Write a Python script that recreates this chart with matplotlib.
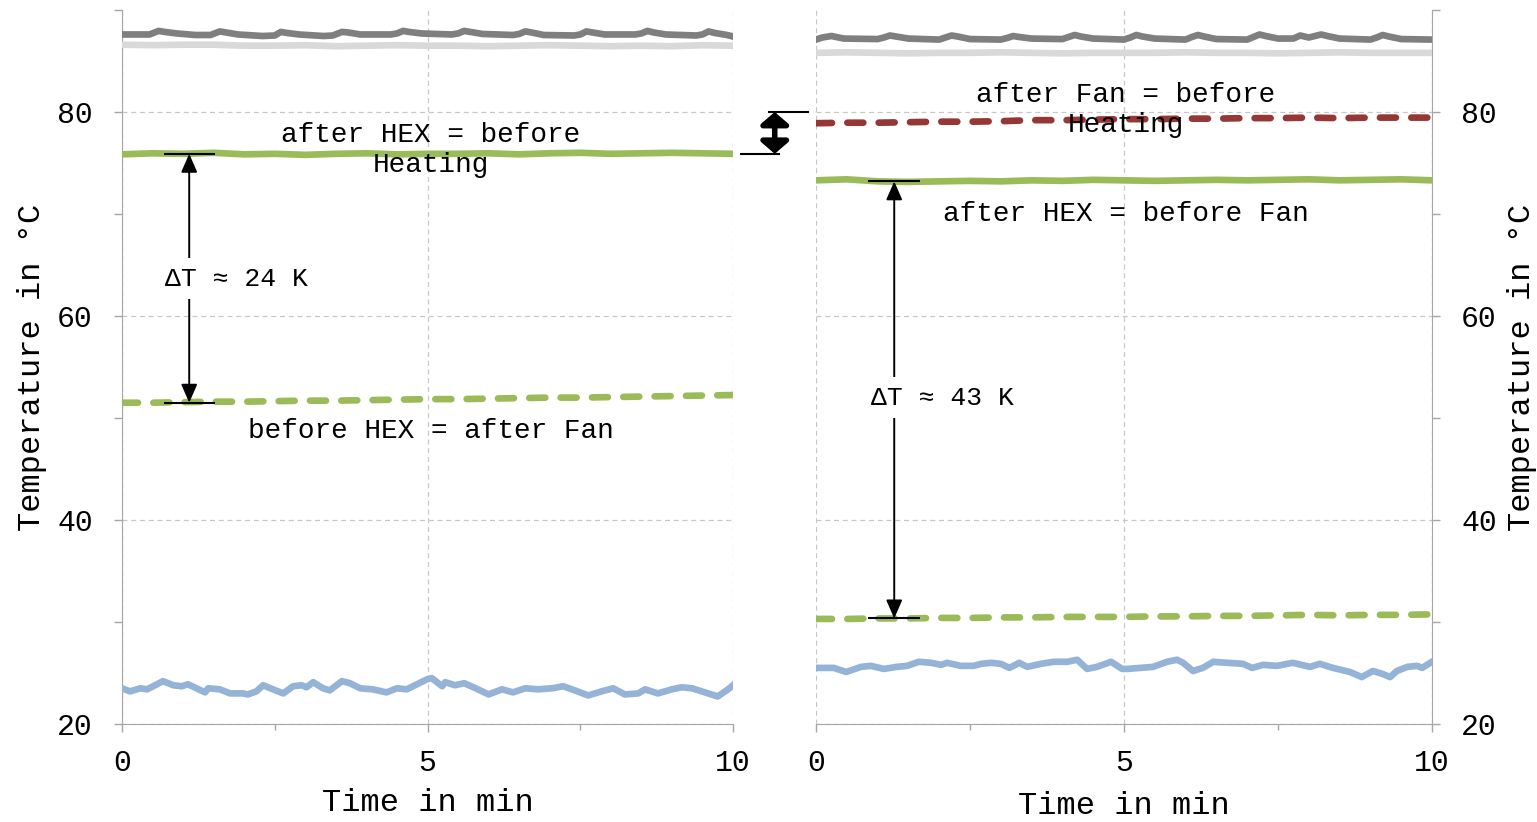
import numpy as np
import matplotlib
matplotlib.use("Agg")
import matplotlib.pyplot as plt
from matplotlib.ticker import MultipleLocator

plt.rcParams['font.family'] = ['Liberation Mono', 'DejaVu Sans Mono']
plt.rcParams['text.color'] = 'black'

# Zeitachse in min (0.5-min-Raster fuer die ruhigen Kurven)
t_half = [i * 0.5 for i in range(21)]

# --- linke Seite: Messung vor dem Umbau ---
t_grau_l = [0, 0.45, 0.6, 0.7, 0.9, 1.2, 1.45, 1.6, 1.7, 1.9, 2.3, 2.5, 2.6, 2.7, 2.9, 3.3,
            3.45, 3.6, 3.7, 3.9, 4.4, 4.5, 4.6, 4.7, 4.9, 5.4, 5.5, 5.6, 5.7, 5.9, 6.4, 6.5,
            6.6, 6.7, 6.9, 7.4, 7.5, 7.6, 7.7, 7.9, 8.4, 8.5, 8.6, 8.7, 8.9, 9.4, 9.5, 9.6,
            9.7, 9.9, 10]
grau_dunkel_l = [87.6, 87.6, 87.95, 87.85, 87.7, 87.55, 87.55, 87.9, 87.8, 87.6, 87.45, 87.5,
                 87.85, 87.75, 87.6, 87.45, 87.5, 87.85, 87.8, 87.6, 87.6, 87.7, 87.95, 87.85,
                 87.7, 87.6, 87.7, 87.95, 87.85, 87.65, 87.55, 87.65, 87.9, 87.8, 87.55, 87.5,
                 87.6, 87.9, 87.8, 87.6, 87.6, 87.7, 87.95, 87.8, 87.6, 87.5, 87.6, 87.9, 87.75,
                 87.55, 87.4]
grau_hell_l = [86.6, 86.55, 86.6, 86.6, 86.5, 86.5, 86.55, 86.45, 86.5, 86.55, 86.5, 86.5, 86.45,
               86.5, 86.55, 86.5, 86.45, 86.5, 86.45, 86.55, 86.5]
nach_hex_l = [75.85, 75.95, 75.9, 76.0, 75.85, 75.9, 75.8, 75.9, 75.95, 75.85, 75.9, 75.9, 75.95,
              75.85, 75.95, 76.0, 75.9, 75.95, 76.0, 75.95, 75.9]
vor_hex_l = [51.5, 51.5, 51.55, 51.6, 51.6, 51.65, 51.7, 51.7, 51.75, 51.8, 51.85, 51.85, 51.9,
             51.95, 52.0, 52.0, 52.05, 52.1, 52.15, 52.2, 52.25]
t_luft_l = [0, 0.13, 0.3, 0.41, 0.51, 0.67, 0.84, 0.98, 1.08, 1.22, 1.36, 1.41, 1.6, 1.77, 1.98,
            2.06, 2.2, 2.31, 2.47, 2.64, 2.8, 2.94, 3.02, 3.13, 3.29, 3.4, 3.6, 3.73, 3.9, 4.1,
            4.33, 4.5, 4.66, 4.83, 5.0, 5.07, 5.24, 5.29, 5.45, 5.6, 5.79, 6.0, 6.22, 6.4, 6.6,
            6.81, 7.04, 7.22, 7.41, 7.63, 7.85, 8.04, 8.23, 8.45, 8.56, 8.77, 9.0, 9.16, 9.33,
            9.54, 9.75, 9.92, 10]
luft_l = [23.5, 23.2, 23.5, 23.4, 23.7, 24.2, 23.8, 23.7, 23.9, 23.5, 23.1, 23.5, 23.4, 23.0, 23.0,
          22.9, 23.2, 23.8, 23.4, 23.0, 23.7, 23.8, 23.6, 24.1, 23.5, 23.3, 24.2, 24.0, 23.5, 23.4,
          23.1, 23.5, 23.4, 23.9, 24.4, 24.5, 23.7, 24.1, 23.8, 24.0, 23.5, 22.9, 23.4, 23.1, 23.5,
          23.4, 23.5, 23.7, 23.3, 22.8, 23.2, 23.5, 22.9, 23.0, 23.4, 23.0, 23.4, 23.6, 23.5,
          23.1, 22.7, 23.4, 23.8]

# --- rechte Seite: Messung nach dem Umbau ---
t_grau_r = [0, 0.1, 0.25, 0.45, 1.0, 1.1, 1.2, 1.3, 1.5, 2.0, 2.1, 2.2, 2.3, 2.5, 3.0, 3.1,
            3.2, 3.3, 3.5, 4.0, 4.1, 4.2, 4.3, 4.5, 5.0, 5.1, 5.2, 5.3, 5.5, 6.0, 6.1, 6.2,
            6.3, 6.5, 7.0, 7.1, 7.2, 7.3, 7.5, 7.75, 7.86, 8.0, 8.2, 8.3, 8.5, 9.0, 9.1, 9.2,
            9.3, 9.5, 10]
grau_dunkel_r = [87.1, 87.3, 87.45, 87.2, 87.15, 87.3, 87.5, 87.4, 87.2, 87.1, 87.3, 87.5, 87.4,
                 87.15, 87.1, 87.25, 87.45, 87.35, 87.2, 87.15, 87.35, 87.55, 87.4, 87.2, 87.1,
                 87.3, 87.55, 87.4, 87.2, 87.1, 87.35, 87.55, 87.4, 87.15, 87.1, 87.35, 87.6,
                 87.45, 87.2, 87.2, 87.5, 87.3, 87.6, 87.45, 87.2, 87.1, 87.3, 87.55, 87.4, 87.15,
                 87.1]
grau_hell_r = [85.8, 85.85, 85.8, 85.75, 85.8, 85.8, 85.85, 85.8, 85.75, 85.8, 85.8, 85.8, 85.85,
               85.8, 85.8, 85.75, 85.8, 85.85, 85.8, 85.8, 85.8]
nach_luefter_r = [78.9, 78.95, 78.95, 79.0, 79.05, 79.05, 79.1, 79.2, 79.2, 79.25, 79.3, 79.3,
                  79.35, 79.35, 79.4, 79.4, 79.45, 79.4, 79.45, 79.45, 79.45]
nach_hex_r = [73.3, 73.4, 73.2, 73.15, 73.2, 73.25, 73.2, 73.3, 73.25, 73.35, 73.3, 73.25, 73.3,
              73.35, 73.3, 73.35, 73.4, 73.3, 73.35, 73.4, 73.3]
vor_hex_r = [30.3, 30.3, 30.35, 30.35, 30.4, 30.4, 30.45, 30.45, 30.5, 30.5, 30.5, 30.55, 30.55,
             30.6, 30.6, 30.65, 30.7, 30.65, 30.7, 30.7, 30.75]
t_luft_r = [0.02, 0.29, 0.49, 0.73, 0.89, 1.1, 1.31, 1.48, 1.67, 1.87, 2.03, 2.13, 2.35, 2.56,
            2.68, 2.84, 3.0, 3.14, 3.3, 3.43, 3.65, 3.86, 4.08, 4.24, 4.4, 4.56, 4.79, 4.97,
            5.05, 5.26, 5.47, 5.7, 5.86, 5.96, 6.12, 6.28, 6.45, 6.67, 6.93, 7.08, 7.26, 7.48,
            7.74, 8.02, 8.18, 8.39, 8.67, 8.86, 9.04, 9.2, 9.32, 9.43, 9.6, 9.76, 9.84, 10]
luft_r = [25.5, 25.5, 25.1, 25.6, 25.7, 25.4, 25.6, 25.7, 26.1, 26.0, 25.8, 26.0, 25.7, 25.7,
          25.9, 26.0, 25.9, 25.5, 26.0, 25.6, 25.9, 26.1, 26.1, 26.3, 25.4, 25.6, 26.1, 25.4,
          25.4, 25.5, 25.6, 26.1, 26.3, 26.0, 25.2, 25.5, 26.1, 26.0, 25.9, 25.5, 25.8, 25.7,
          26.0, 25.6, 25.9, 25.5, 25.1, 24.6, 25.2, 24.9, 24.6, 25.2, 25.6, 25.7, 25.5, 26.1]

# Temperaturdifferenzen fuer die Pfeile
dT_links = (1.1, vor_hex_l[0], nach_hex_l[2], 'ΔT ≈ 24 K')
dT_rechts = (1.27, vor_hex_r[2], nach_hex_r[4], 'ΔT ≈ 43 K')
heiz_oben, heiz_unten = 80.0, nach_hex_l[-1]

DUNKELGRAU = '#7f7f7f'
HELLGRAU = '#d9d9d9'
GRUEN = '#9bbb59'
BLAU = '#95b3d7'
ROT = '#953735'
ACHSE = '#a6a6a6'
LW = 4.8

fig = plt.figure(figsize=(15.37, 8.22), dpi=100)
ax1 = fig.add_axes([122 / 1537, 98 / 822, 611 / 1537, 714 / 822])
ax2 = fig.add_axes([816 / 1537, 98 / 822, 616 / 1537, 714 / 822])


def gestrichelt(ax, x, y, farbe):
    ax.plot(x, y, color=farbe, lw=LW, dashes=(2.4, 2.3), dash_capstyle='round', zorder=3)


def achse_stylen(ax, rechts=False):
    ax.set_xlim(0, 10)
    ax.set_ylim(20, 90)
    ax.xaxis.set_major_locator(MultipleLocator(5))
    ax.xaxis.set_minor_locator(MultipleLocator(2.5))
    ax.set_yticks([20, 40, 60, 80])
    ax.set_yticks([30, 50, 70, 90], minor=True)
    ax.grid(True, which='major', color='#c8c8c8', ls=(0, (4, 3)), lw=0.9, zorder=0)
    for s in ax.spines.values():
        s.set_visible(False)
    ax.spines['bottom'].set_visible(True)
    ax.spines['bottom'].set_color(ACHSE)
    seite = 'right' if rechts else 'left'
    ax.spines[seite].set_visible(True)
    ax.spines[seite].set_color(ACHSE)
    ax.spines['bottom'].set_zorder(4)
    ax.tick_params(which='both', color=ACHSE, length=6, width=1, direction='out')
    ax.tick_params(axis='y', which='major', labelsize=21.5, pad=15)
    ax.tick_params(axis='x', which='major', labelsize=21.5, pad=12)
    ax.tick_params(axis='x', which='minor', length=4)
    if rechts:
        ax.yaxis.tick_right()
        ax.yaxis.set_label_position('right')
    ax.set_xlabel('Time in min', fontsize=23)
    ax.set_ylabel('Temperature in °C', fontsize=23, rotation=90)
    ax.yaxis.label.set_va('center')
    ax.xaxis.label.set_va('center')


def delta_pfeil(ax, x, unten, oben, text, tx, ty):
    ax.hlines([unten, oben], x - 0.42, x + 0.42, color='black', lw=1.5, zorder=5)
    ax.annotate('', xy=(x, oben), xytext=(x, unten),
                arrowprops=dict(arrowstyle='<|-|>,head_length=0.8,head_width=0.35',
                                color='black', lw=1.4, mutation_scale=14,
                                shrinkA=0, shrinkB=0), zorder=5)
    ax.text(tx, ty, text, fontsize=19, ha='center', va='center', zorder=6,
            bbox=dict(facecolor='white', edgecolor='none', pad=6))


# linkes Diagramm
ax1.plot(t_grau_l, grau_dunkel_l, color=DUNKELGRAU, lw=LW, zorder=3)
ax1.plot(t_half, grau_hell_l, color=HELLGRAU, lw=LW, zorder=3)
ax1.plot(t_half, nach_hex_l, color=GRUEN, lw=LW, zorder=3)
gestrichelt(ax1, t_half, vor_hex_l, GRUEN)
ax1.plot(t_luft_l, luft_l, color=BLAU, lw=LW, zorder=3)
achse_stylen(ax1)
ax1.yaxis.set_label_coords(-0.147, 0.5)
ax1.xaxis.set_label_coords(0.5, -0.111)

ax1.text(5.05, 76.3, 'after HEX = before\nHeating', fontsize=20, ha='center', va='center',
         linespacing=1.2, zorder=6)
ax1.text(5.05, 48.7, 'before HEX = after Fan', fontsize=20, ha='center', va='center', zorder=6)
delta_pfeil(ax1, dT_links[0], dT_links[1], dT_links[2], dT_links[3], 1.88, 63.66)

# rechtes Diagramm
ax2.plot(t_grau_r, grau_dunkel_r, color=DUNKELGRAU, lw=LW, zorder=3)
ax2.plot(t_half, grau_hell_r, color=HELLGRAU, lw=LW, zorder=3)
gestrichelt(ax2, t_half, nach_luefter_r, ROT)
ax2.plot(t_half, nach_hex_r, color=GRUEN, lw=LW, zorder=3)
gestrichelt(ax2, t_half, vor_hex_r, GRUEN)
ax2.plot(t_luft_r, luft_r, color=BLAU, lw=LW, zorder=3)
achse_stylen(ax2, rechts=True)
ax2.yaxis.set_label_coords(1.146, 0.5)
ax2.xaxis.set_label_coords(0.5, -0.115)

ax2.text(5.03, 80.15, 'after Fan = before\nHeating', fontsize=20, ha='center', va='center',
         linespacing=1.2, zorder=6)
ax2.text(5.03, 70.0, 'after HEX = before Fan', fontsize=20, ha='center', va='center', zorder=6)
delta_pfeil(ax2, dT_rechts[0], dT_rechts[1], dT_rechts[2], dT_rechts[3], 2.06, 52.0)

# Aufheizung zwischen den Diagrammen
ax2.plot([-0.76, -0.13], [heiz_oben, heiz_oben], color='black', lw=1.5, clip_on=False)
ax2.plot([-1.22, -0.6], [heiz_unten, heiz_unten], color='black', lw=1.5, clip_on=False)
ax2.annotate('', xy=(-0.67, heiz_oben), xytext=(-0.67, heiz_unten), annotation_clip=False,
             arrowprops=dict(arrowstyle='<|-|>,head_length=0.36,head_width=0.42',
                             color='black', lw=4, mutation_scale=20, shrinkA=0, shrinkB=0))

fig.savefig('out.png', dpi=100)
